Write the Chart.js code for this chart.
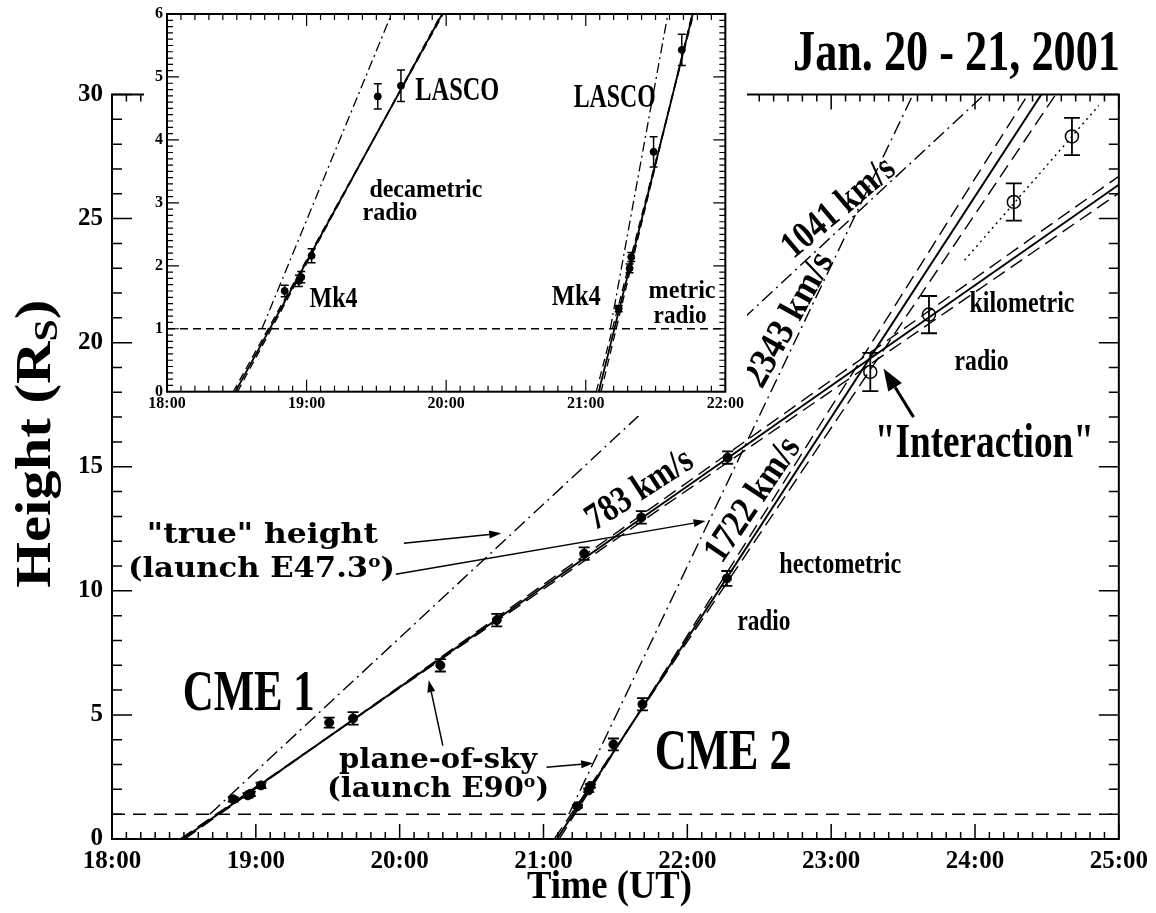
<!DOCTYPE html>
<html>
<head>
<meta charset="utf-8">
<script src="https://cdn.jsdelivr.net/npm/chart.js@4.4.1/dist/chart.umd.min.js"></script>
<style>
  html, body { margin: 0; padding: 0; background: #fff; }
  #wrap { position: relative; width: 1156px; height: 913px; }
  #main { position: absolute; left: 0; top: 0; }
  #inset { position: absolute; left: 144px; top: 0; }
</style>
</head>
<body>
<div id="wrap">
  <canvas id="main" width="1156" height="913"></canvas>
  <canvas id="inset" width="603" height="416"></canvas>
</div>
<script>
// ---- Observations: time in hours UT (24+ = next day), height in solar radii ----
const cme1Time   = [18.843, 18.945, 18.962, 19.036, 19.51, 19.676, 20.283, 20.675, 21.283, 21.68, 22.28];
const cme1Height = [1.60, 1.76, 1.82, 2.16, 4.69, 4.86, 7.00, 8.82, 11.50, 12.96, 15.37];
const cme1Err    = [0.09, 0.09, 0.09, 0.11, 0.2, 0.25, 0.25, 0.25, 0.25, 0.25, 0.25];

const cme2Time   = [21.236, 21.314, 21.326, 21.486, 21.688, 22.275];
const cme2Height = [1.32, 1.96, 2.14, 3.81, 5.43, 10.5];
const cme2Err    = [0.05, 0.07, 0.07, 0.24, 0.25, 0.3];

// kilometric radio heights (open circles)
const kmTime   = [23.272, 23.68, 24.27, 24.674];
const kmHeight = [18.82, 21.13, 25.67, 28.31];
const kmErr    = [0.77, 0.75, 0.75, 0.75];

// plane-of-sky linear fits: speed (km/s), launch time at height 0, band speed error, band pivot time
const fitSpeed    = [783, 1722];
const fitLaunch   = [18.49, 21.093];
const fitSpeedErr = [12, 58];
const fitPivot    = [19.5, 21.6];

// "true" height lines: speed (km/s), time at 1 R_s
const trueSpeed = [1041, 2343];
const trueStart = [18.68, 21.176];

// dotted fit through the late kilometric points
const kmFitTime   = [23.927, 24.861];
const kmFitHeight = [23.32, 29.56];

const surfaceHeight = 1;
const xTicksMain = [18, 19, 20, 21, 22, 23, 24, 25];
const xTicksInset = [18, 19, 20, 21, 22];

// ---- helpers ----
const RS_PER_HR = 3600 / 696000;          // km/s -> solar radii per hour
const TIMES = '"Liberation Serif", "Times New Roman", serif';
const CENTURY = '"DejaVu Serif", serif';

function fitLine(speed, t0, h0, tEnd, hMax) {
  const k = speed * RS_PER_HR;
  let t1 = tEnd, h1 = h0 + k * (tEnd - t0);
  if (h1 > hMax) { h1 = hMax; t1 = t0 + (hMax - h0) / k; }
  return [{ x: t0, y: h0 }, { x: t1, y: h1 }];
}

function pts(ts, hs) { return ts.map((t, i) => ({ x: t, y: hs[i] })); }

function buildDatasets(st) {
  const ds = [];
  const line = (data, dash, width) => ds.push({
    data, showLine: true, borderColor: '#000', borderWidth: width, borderDash: dash,
    pointRadius: 0, pointHoverRadius: 0, fill: false, tension: 0, borderCapStyle: 'butt'
  });
  line([{ x: 18, y: surfaceHeight }, { x: 25, y: surfaceHeight }], st.surfDash, st.thin);
  for (let i = 0; i < fitSpeed.length; i++) {
    const k = fitSpeed[i] * RS_PER_HR;
    const hp = k * (fitPivot[i] - fitLaunch[i]);
    for (const sgn of [1, -1]) {
      const v = fitSpeed[i] + sgn * fitSpeedErr[i];
      const t0 = fitPivot[i] - hp / (v * RS_PER_HR);
      line(fitLine(v, t0, 0, 25, 30), st.dash, st.thin);
    }
    line(fitLine(fitSpeed[i], fitLaunch[i], 0, 25, 30), [], st.solid);
  }
  for (let i = 0; i < trueSpeed.length; i++) {
    line(fitLine(trueSpeed[i], trueStart[i], surfaceHeight, 25, 30), st.dashDot, st.thin);
  }
  line(pts(kmFitTime, kmFitHeight), [2, 4], st.thin);

  const marker = (ts, hs, errs, r, hollow, cap) => ds.push({
    data: pts(ts, hs), showLine: false, pointRadius: r, pointHoverRadius: r,
    pointBackgroundColor: hollow ? 'rgba(0,0,0,0)' : '#000', pointBorderColor: '#000',
    pointBorderWidth: hollow ? 1.5 : 1, errorBars: errs, capHalf: cap, barWidth: st.bar
  });
  marker(cme1Time, cme1Height, cme1Err, st.r, false, st.cap);
  marker(cme2Time, cme2Height, cme2Err, st.r, false, st.cap);
  marker(kmTime, kmHeight, kmErr, st.rHollow, true, st.capHollow);
  return ds;
}

const errorBarPlugin = {
  id: 'errorBars',
  afterDatasetsDraw(chart) {
    const { ctx, chartArea: a } = chart;
    const y = chart.scales.y;
    ctx.save();
    ctx.beginPath();
    ctx.rect(a.left, a.top - 1, a.right - a.left, a.bottom - a.top + 2);
    ctx.clip();
    ctx.strokeStyle = '#000';
    chart.data.datasets.forEach((ds, i) => {
      if (!ds.errorBars) return;
      chart.getDatasetMeta(i).data.forEach((p, j) => {
        const v = ds.data[j].y, e = ds.errorBars[j];
        const y0 = y.getPixelForValue(v - e), y1 = y.getPixelForValue(v + e);
        const w = ds.capHalf;
        ctx.lineWidth = ds.barWidth;
        ctx.beginPath();
        ctx.moveTo(p.x, y0); ctx.lineTo(p.x, y1);
        ctx.moveTo(p.x - w, y0); ctx.lineTo(p.x + w, y0);
        ctx.moveTo(p.x - w, y1); ctx.lineTo(p.x + w, y1);
        ctx.stroke();
      });
    });
    ctx.restore();
  }
};

function framePlugin(cfg) {
  return {
    id: 'frame',
    beforeDraw(chart) {
      if (!cfg.whiteBg) return;
      const c = chart.ctx;
      c.save(); c.fillStyle = '#fff'; c.fillRect(0, 0, chart.width, chart.height); c.restore();
    },
    afterDraw(chart) {
      const { ctx, chartArea: a } = chart;
      const x = chart.scales.x, y = chart.scales.y;
      ctx.save();
      ctx.strokeStyle = '#000';
      ctx.lineWidth = cfg.tickWidth;
      ctx.beginPath();
      const nx = Math.round((x.max - x.min) / cfg.xMinor);
      for (let i = 0; i <= nx; i++) {
        const px = x.getPixelForValue(x.min + i * cfg.xMinor);
        const len = i % cfg.xEvery === 0 ? cfg.xMajorLen : cfg.xMinorLen;
        ctx.moveTo(px, a.bottom); ctx.lineTo(px, a.bottom - len);
        ctx.moveTo(px, a.top); ctx.lineTo(px, a.top + len);
      }
      const ny = Math.round((y.max - y.min) / cfg.yMinor);
      for (let i = 0; i <= ny; i++) {
        const py = y.getPixelForValue(y.min + i * cfg.yMinor);
        const len = i % cfg.yEvery === 0 ? cfg.yMajorLen : cfg.yMinorLen;
        ctx.moveTo(a.left, py); ctx.lineTo(a.left + len, py);
        ctx.moveTo(a.right, py); ctx.lineTo(a.right - len, py);
      }
      ctx.stroke();
      ctx.lineWidth = cfg.frameWidth;
      ctx.strokeRect(a.left, a.top, a.right - a.left, a.bottom - a.top);
      ctx.restore();
    }
  };
}

// text made of runs (for sub/superscripts), squeezed horizontally to a target width
function richText(ctx, segs, x, y, o) {
  ctx.save();
  let total = 0;
  const widths = segs.map(s => {
    ctx.font = `bold ${s.size}px ${s.family}`;
    const w = ctx.measureText(s.text).width;
    total += w;
    return w;
  });
  const sx = o.width ? o.width / total : 1;
  ctx.translate(x, y);
  if (o.angle) ctx.rotate(o.angle * Math.PI / 180);
  ctx.scale(sx, 1);
  ctx.fillStyle = '#000';
  ctx.textAlign = 'left';
  ctx.textBaseline = o.baseline || 'alphabetic';
  let cx = o.align === 'center' ? -total / 2 : 0;
  segs.forEach((s, i) => {
    ctx.font = `bold ${s.size}px ${s.family}`;
    ctx.fillText(s.text, cx, s.dy || 0);
    cx += widths[i];
  });
  ctx.restore();
}
function plain(text, size, family) { return [{ text, size, family }]; }
function degree(pre, size, family) {
  return [{ text: pre, size, family },
          { text: 'o', size: size * 0.6, family, dy: -size * 0.36 },
          { text: ')', size, family }];
}

function arrow(ctx, x0, y0, x1, y1, len, half, width) {
  const ang = Math.atan2(y1 - y0, x1 - x0);
  const bx = x1 - len * Math.cos(ang), by = y1 - len * Math.sin(ang);
  ctx.save();
  ctx.strokeStyle = '#000'; ctx.fillStyle = '#000'; ctx.lineWidth = width;
  ctx.beginPath(); ctx.moveTo(x0, y0); ctx.lineTo(bx, by); ctx.stroke();
  ctx.beginPath();
  ctx.moveTo(x1, y1);
  ctx.lineTo(bx - half * Math.sin(ang), by + half * Math.cos(ang));
  ctx.lineTo(bx + half * Math.sin(ang), by - half * Math.cos(ang));
  ctx.closePath(); ctx.fill();
  ctx.restore();
}

// ---- annotations of the main panel (positions in data units) ----
const mainLabels = [
  { segs: plain('CME 1', 56, TIMES), t: 18.4916, h: 5.195, width: 132 },
  { segs: plain('CME 2', 56, TIMES), t: 21.7735, h: 2.819, width: 137 },
  { segs: plain('"true" height', 27, CENTURY), t: 18.2423, h: 11.921, width: 231 },
  { segs: degree('(launch E47.3', 27, CENTURY), t: 18.1108, h: 10.552, width: 267 },
  { segs: plain('plane-of-sky', 27, CENTURY), t: 19.5786, h: 2.859, width: 198 },
  { segs: degree('(launch E90', 27, CENTURY), t: 19.4955, h: 1.691, width: 222 },
  { segs: plain('hectometric', 29, TIMES), t: 22.6389, h: 10.713, width: 122 },
  { segs: plain('radio', 29, TIMES), t: 22.3481, h: 8.417, width: 53 },
  { segs: plain('kilometric', 29, TIMES), t: 23.9614, h: 21.224, width: 105 },
  { segs: plain('radio', 29, TIMES), t: 23.8575, h: 18.888, width: 54 },
  { segs: plain('"Interaction"', 48, TIMES), t: 23.3036, h: 15.385, width: 219 },
  { segs: plain('783 km/s', 38, TIMES), t: 21.6696, h: 14.056, width: 120, angle: -33, center: true },
  { segs: plain('1722 km/s', 38, TIMES), t: 22.4589, h: 13.653, width: 142, angle: -56, center: true },
  { segs: plain('2343 km/s', 38, TIMES), t: 22.7082, h: 20.902, width: 148, angle: -61, center: true },
  { segs: plain('1041 km/s', 38, TIMES), t: 23.0544, h: 25.413, width: 136, angle: -40, center: true }
];
const mainArrows = [
  { from: [20.029, 11.92], to: [20.706, 12.32], len: 12, half: 4, w: 1.5 },
  { from: [19.973, 10.67], to: [22.127, 12.81], len: 12, half: 4, w: 1.5 },
  { from: [20.30, 3.76],   to: [20.202, 6.40],  len: 12, half: 4, w: 1.5 },
  { from: [21.021, 2.89],  to: [21.345, 3.05],  len: 12, half: 4, w: 1.5 },
  { from: [23.573, 17.0],  to: [23.364, 18.96], len: 22, half: 8, w: 3 }
];

const insetLabels = [
  { segs: plain('LASCO', 33, TIMES), t: 19.7786, h: 4.634, width: 84 },
  { segs: plain('decametric', 25, TIMES), t: 19.45, h: 3.093, width: 113 },
  { segs: plain('radio', 25, TIMES), t: 19.4, h: 2.727, width: 55 },
  { segs: plain('Mk4', 30, TIMES), t: 19.0214, h: 1.3455, width: 48 },
  { segs: plain('LASCO', 33, TIMES), t: 20.914, h: 4.523, width: 82 },
  { segs: plain('Mk4', 30, TIMES), t: 20.757, h: 1.377, width: 49 },
  { segs: plain('metric', 25, TIMES), t: 21.45, h: 1.488, width: 67 },
  { segs: plain('radio', 25, TIMES), t: 21.486, h: 1.091, width: 53 }
];

function labelPlugin(labels, arrows, extra) {
  return {
    id: 'labels',
    afterDraw(chart) {
      const ctx = chart.ctx, x = chart.scales.x, y = chart.scales.y;
      labels.forEach(l => {
        richText(ctx, l.segs, x.getPixelForValue(l.t), y.getPixelForValue(l.h),
          { width: l.width, angle: l.angle, align: l.center ? 'center' : 'left',
            baseline: l.center ? 'middle' : 'alphabetic' });
      });
      arrows.forEach(a => arrow(ctx,
        x.getPixelForValue(a.from[0]), y.getPixelForValue(a.from[1]),
        x.getPixelForValue(a.to[0]), y.getPixelForValue(a.to[1]), a.len, a.half, a.w));
      if (extra) extra(ctx, chart);
    }
  };
}

function titles(ctx, chart) {
  const a = chart.chartArea;
  richText(ctx, plain('Jan. 20 - 21, 2001', 58, TIMES), 793, 70, { width: 327 });
  richText(ctx, plain('Time (UT)', 40, TIMES), (a.left + a.right) / 2 - 6, 898, { width: 165, align: 'center' });
  richText(ctx, [
    { text: 'Height (R', size: 50, family: TIMES },
    { text: 'S', size: 34, family: TIMES, dy: 7 },
    { text: ')', size: 50, family: TIMES }
  ], 50, (a.top + a.bottom) / 2 - 23, { width: 288, angle: -90, align: 'center' });
}

function axes(min, max, ymax, ystep, xticks, size, padX, padY, yWidth, xHeight) {
  const font = { family: TIMES, weight: 'bold', size };
  return {
    x: {
      type: 'linear', min, max,
      grid: { display: false, drawTicks: false }, border: { display: false },
      afterBuildTicks: s => { s.ticks = xticks.map(v => ({ value: v })); },
      ticks: { autoSkip: false, maxRotation: 0, color: '#000', font, padding: padX,
               callback: v => `${v}:00` },
      afterFit: s => { s.height = xHeight; }
    },
    y: {
      type: 'linear', min: 0, max: ymax,
      grid: { display: false, drawTicks: false }, border: { display: false },
      ticks: { stepSize: ystep, autoSkip: false, color: '#000', font, padding: padY },
      afterFit: s => { s.width = yWidth; }
    }
  };
}

const common = {
  responsive: false, animation: false, devicePixelRatio: 1, events: [],
  plugins: { legend: { display: false }, tooltip: { enabled: false }, title: { display: false } }
};

new Chart(document.getElementById('main'), {
  type: 'scatter',
  data: { datasets: buildDatasets({ surfDash: [13, 8], dash: [14, 7], dashDot: [14, 5, 2, 5], thin: 1.4,
                                     solid: 2, r: 4.5, rHollow: 6.5, cap: 5.5, capHollow: 8, bar: 1.8 }) },
  options: Object.assign({}, common, {
    layout: { padding: { left: 0, top: 94.5, right: 33, bottom: 0 } },
    scales: axes(18, 25, 30, 5, xTicksMain, 25, 8, 9, 112, 74)
  }),
  plugins: [errorBarPlugin,
    framePlugin({ whiteBg: false, xMinor: 0.1, xEvery: 10, yMinor: 1, yEvery: 5,
                  xMajorLen: 15, xMinorLen: 7, yMajorLen: 20, yMinorLen: 10, tickWidth: 1.5, frameWidth: 2 }),
    labelPlugin(mainLabels, mainArrows, titles)]
});

new Chart(document.getElementById('inset'), {
  type: 'scatter',
  data: { datasets: buildDatasets({ surfDash: [8, 5], dash: [8, 5], dashDot: [10, 4, 2, 4], thin: 1.3,
                                     solid: 1.8, r: 3.5, rHollow: 5, cap: 4, capHollow: 5, bar: 1.5 }) },
  options: Object.assign({}, common, {
    layout: { padding: { left: 0, top: 14, right: 20, bottom: 0 } },
    scales: axes(18, 22, 6, 1, xTicksInset, 16, 3, 4, 23, 24.3)
  }),
  plugins: [errorBarPlugin,
    framePlugin({ whiteBg: true, xMinor: 0.1, xEvery: 10, yMinor: 0.1, yEvery: 10,
                  xMajorLen: 12, xMinorLen: 6, yMajorLen: 12, yMinorLen: 6, tickWidth: 1.2, frameWidth: 2 }),
    labelPlugin(insetLabels, [], null)]
});
</script>
</body>
</html>
